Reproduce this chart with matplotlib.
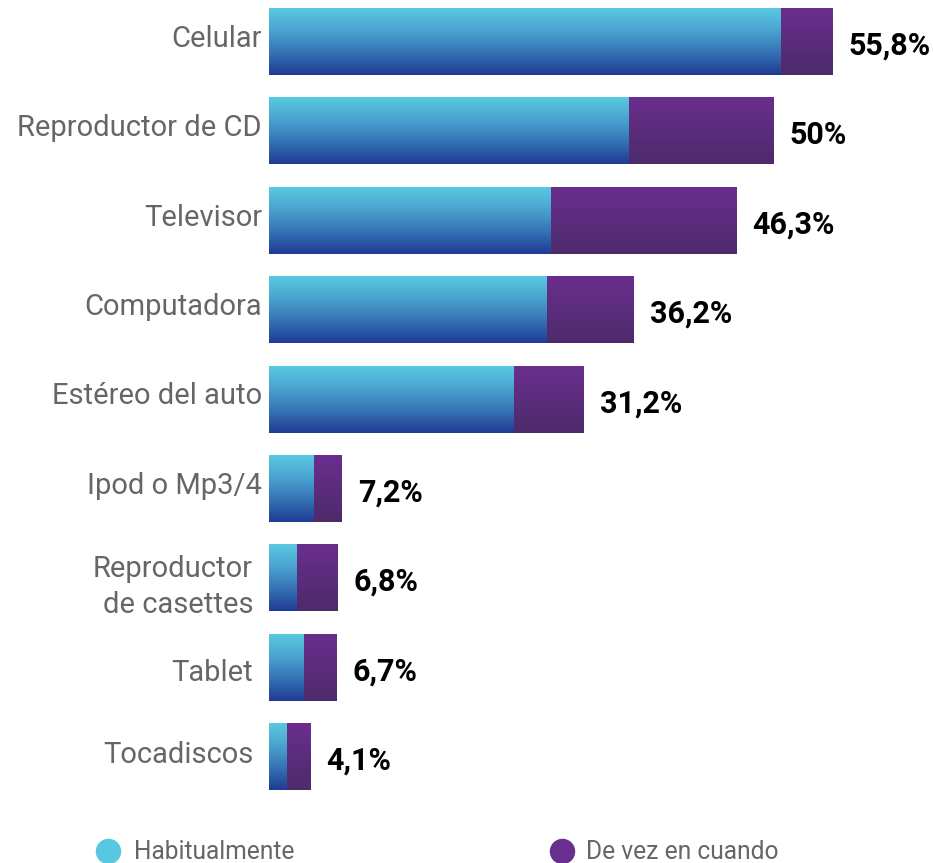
import numpy as np
import matplotlib.pyplot as plt
from matplotlib.colors import LinearSegmentedColormap
from matplotlib.transforms import ScaledTranslation

categories = ["Celular", "Reproductor de CD", "Televisor", "Computadora",
              "Estéreo del auto", "Ipod o Mp3/4", "Reproductor\nde casettes",
              "Tablet", "Tocadiscos"]
habitualmente = [50.7, 35.7, 27.9, 27.6, 24.3, 4.5, 2.8, 3.5, 1.8]
de_vez = [5.1, 14.3, 18.4, 8.6, 6.9, 2.7, 4.0, 3.2, 2.3]
totales = ["55,8%", "50%", "46,3%", "36,2%", "31,2%", "7,2%", "6,8%", "6,7%", "4,1%"]
series_names = ["Habitualmente", "De vez en cuando"]

plt.rcParams['font.family'] = ['Roboto', 'DejaVu Sans']

blue_cmap = LinearSegmentedColormap.from_list("blue", ["#5ac9e1", "#4aa3cf", "#3573b5", "#1f3a93"])
purple_cmap = LinearSegmentedColormap.from_list("purple", ["#6a2e8e", "#4d2b6b"])

W, H = 933, 863
fig = plt.figure(figsize=(W / 100, H / 100), dpi=100)
ax = fig.add_axes([269 / W, 1 - 800 / H, 1 - 269 / W, 800 / H])

y = np.arange(len(categories))
bars1 = ax.barh(y, habitualmente, height=0.74, color="none")
bars2 = ax.barh(y, de_vez, left=habitualmente, height=0.74, color="none")

grad = np.linspace(0, 1, 256).reshape(-1, 1)
for bars, cmap in ((bars1, blue_cmap), (bars2, purple_cmap)):
    for b in bars:
        x0, y0 = b.get_x(), b.get_y()
        w, h = b.get_width(), b.get_height()
        # y axis is inverted, so y0 is the top edge
        ax.imshow(grad, cmap=cmap, aspect="auto", extent=(x0, x0 + w, y0 + h, y0),
                  interpolation="bicubic", zorder=2)

for i, (a, b, lab) in enumerate(zip(habitualmente, de_vez, totales)):
    ax.text(a + b + 1.6, i + 0.04, lab, va="center", ha="left",
            fontsize=22, fontweight="bold", color="black")

ax.set_xlim(0, 664 / 10.09)
ax.set_ylim((800 - 42) / 89.375, -42 / 89.375)
ax.set_yticks(y)
ax.set_yticklabels(categories, fontsize=21, color="#666666", linespacing=1.35)
ax.tick_params(axis="y", length=0, pad=5)
ax.set_xticks([])
for s in ax.spines.values():
    s.set_visible(False)

# small nudges so the labels sit like in the original
for i, lbl in enumerate(ax.get_yticklabels()):
    dx, dy = (0, 6) if i < 6 else (-9, -2)
    if i == len(categories) - 1:
        dy = 5
    lbl.set_transform(lbl.get_transform() + ScaledTranslation(dx / 100, dy / 100, fig.dpi_scale_trans))

# legend
leg = fig.add_axes([0, 0, 1, 1])
leg.set_xlim(0, W)
leg.set_ylim(H, 0)
leg.axis("off")
leg.patch.set_alpha(0)
for (cx, tx), name, col in zip(((108, 134), (562, 586)), series_names, ("#58c8e0", "#682f8e")):
    leg.scatter([cx], [851], s=300, color=col, zorder=3)
    leg.text(tx, 852, name, va="center", ha="left", fontsize=17.7, color="#666666")

fig.savefig("out.png", dpi=100)
